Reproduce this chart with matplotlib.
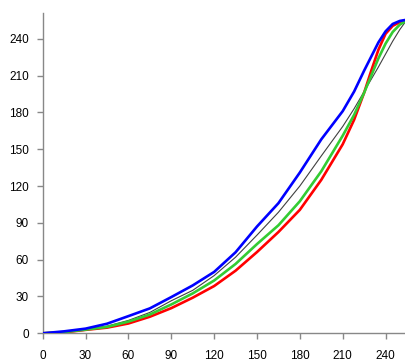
import matplotlib
matplotlib.use("Agg")
import matplotlib.pyplot as plt

x = [0, 15, 30, 45, 60, 75, 90, 105, 120, 135, 150, 165, 180, 195, 210, 218, 225, 230, 235, 240, 245, 250, 255]
blue = [0, 1.6, 3.8, 7.8, 14, 20.3, 29.5, 39, 50, 66, 87, 106, 131, 158, 181, 197, 214, 225.5, 237, 246, 252, 254.5, 255.5]
black = [0, 1.2, 3.3, 5.8, 10.5, 17, 26.5, 35, 47, 62, 80, 98.6, 120, 144.5, 168.5, 183, 197, 207, 217, 227.5, 238, 247.5, 255.5]
green = [0, 1, 3, 5.2, 9.5, 15.3, 23.5, 32.5, 43, 56.5, 72.7, 88, 107.6, 132, 161, 178, 196, 210, 224, 236, 245.5, 251.5, 255]
red = [0, 0.8, 2.8, 4.6, 8, 13.5, 20.5, 29, 38.5, 51, 66.2, 82.5, 100.6, 125, 154, 174, 196, 214, 231, 244, 250.5, 253.5, 255.5]

xticks = [0, 30, 60, 90, 120, 150, 180, 210, 240]
yticks = [0, 30, 60, 90, 120, 150, 180, 210, 240]

fig = plt.figure(figsize=(4.06, 3.63), dpi=100)
ax = fig.add_axes([42.7 / 406, 29.7 / 363, 363.3 / 406, 320 / 363])

ax.plot(x, black, color="#404040", lw=0.8, zorder=3)
ax.plot(x, red, color="#ff0000", lw=1.9, zorder=4)
ax.plot(x, green, color="#33cc33", lw=1.9, zorder=5)
ax.plot(x, blue, color="#0000ff", lw=1.9, zorder=6)

ax.set_xlim(0, 254.3)
ax.set_ylim(0, 260.7)
ax.set_xticks(xticks)
ax.set_yticks(yticks)
ax.set_xticklabels([str(v) for v in xticks])
ax.set_yticklabels([str(v) for v in yticks])

for s in ["top", "right"]:
    ax.spines[s].set_visible(False)
for s in ["left", "bottom"]:
    ax.spines[s].set_color("#888888")
    ax.spines[s].set_linewidth(1.0)

ax.tick_params(axis="both", direction="out", length=4, width=1, color="#888888",
               labelsize=8.5, labelcolor="black")
ax.tick_params(axis="x", pad=8)
ax.tick_params(axis="y", pad=6)
for lbl in ax.get_xticklabels() + ax.get_yticklabels():
    lbl.set_fontfamily("Liberation Sans")

fig.savefig("out.png", dpi=100)
